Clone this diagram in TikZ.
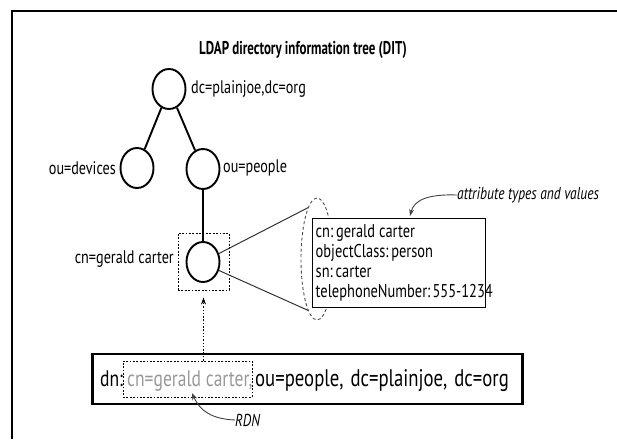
\documentclass[tikz,border=0pt]{standalone}
\usepackage{fontspec}
\setmainfont[FakeStretch=0.78]{PT Sans}
\newfontfamily\headfont[FakeStretch=0.7]{PT Sans}
\usetikzlibrary{shapes.geometric,arrows.meta}

\begin{document}
\begin{tikzpicture}[x=1pt,y=-1pt,
  entry/.style={draw, line width=1.9pt, ellipse, minimum width=33pt, minimum height=40pt, inner sep=0pt},
  tie/.style={line width=1.9pt},
  lbl/.style={font=\fontsize{18.2}{20}\selectfont, inner sep=0pt},
  dntext/.style={font=\fontsize{22.5}{26}\selectfont, inner sep=0pt},
  finedash/.style={draw, line width=0.9pt, dash pattern=on 1.8pt off 1.6pt},
  rim/.style={line width=1pt, black!80},
  note/.style={line width=0.9pt, black!75, -{Stealth[length=7pt,width=5pt]}},
  notetext/.style={font=\itshape\fontsize{17.3}{19}\selectfont, inner sep=0pt}]
\useasboundingbox (0,0) rectangle (617,439);

% frame
\draw[line width=2pt] (617,11) -- (12,11) -- (12,439);

% title
\node[font=\headfont\bfseries\fontsize{18.5}{20}\selectfont, inner sep=0pt] (title) at (303,50) {LDAP directory information tree (DIT)};

% tree entries
\node[entry] (root) at (169,89) {};
\node[entry] (dev) at (137,168) {};
\node[entry] (ppl) at (203,169) {};
\node[entry] (cn) at (203,262) {};
\draw[tie] (root) -- (dev);
\draw[tie] (root) -- (ppl);
\draw[tie] (ppl) -- (cn);

\node[lbl, anchor=west] (rootlbl) at (191,89) {dc=plainjoe,dc=org};
\node[lbl, anchor=east] (devlbl) at (116,168) {ou=devices};
\node[lbl, anchor=west] (ppllbl) at (223,168) {ou=people};
\node[lbl, anchor=east] (cnlbl) at (174,259) {cn=gerald carter};

% dashed frame around the entry
\node[finedash, minimum width=51pt, minimum height=57pt] (focus) at (203.5,261.5) {};

% cone opening onto the attribute list
\node[draw, ellipse, black!70, line width=0.9pt, dash pattern=on 3pt off 2.5pt, minimum width=32pt, minimum height=122pt] (cone) at (317,259) {};
\draw[rim] (cn.28) -- (cone.100);
\draw[rim] (cn.-28) -- (cone.260);

\node[draw, fill=white, line width=0.9pt, anchor=north west, minimum width=173pt, minimum height=89pt, inner sep=0pt] (attrs) at (312,218) {};
\node[anchor=north west, align=left, inner sep=0pt, font=\fontsize{18.5}{20}\selectfont] (attrlines) at (315.5,224)
  {cn:\kern0.15em gerald carter\\objectClass:\kern0.15em person\\sn:\kern0.15em carter\\telephoneNumber:\kern0.12em 555-1234};

\node[notetext, anchor=west] (attrnote) at (457,195) {attribute types and values};
\coordinate (attrtip) at (410,216);
\draw[note] (attrnote.west) .. controls (428,194) and (414,200) .. (attrtip);

% distinguished name
\node[draw, line width=2.6pt, minimum width=430pt, minimum height=50pt, inner sep=0pt] (dn) at (307.5,379) {};
\node[dntext, anchor=base west] (dnkey) at (100,386) {dn:};
\node[dntext, anchor=base west, text=black!40] (rdntext) at (127,386) {cn=gerald carter,};
\node[dntext, anchor=base west, font=\fontsize{24}{26}\selectfont] (dnrest) at (255,386) {ou=people,\hspace{2pt} dc=plainjoe,\hspace{2pt} dc=org};
\node[finedash, minimum width=129pt, minimum height=36pt] (rdn) at (187.5,379) {};

\draw[line width=0.9pt, dash pattern=on 1.5pt off 1.8pt, -{Stealth[length=7pt,width=5pt]}, shorten >=7pt] (focus.south |- rdn.north) -- (focus.south);

\node[notetext, anchor=west] (rdnnote) at (235,420) {RDN};
\coordinate (rdntip) at (192,393);
\draw[note] (rdnnote.west) .. controls (212,419) and (200,411) .. (rdntip);
\end{tikzpicture}
\end{document}
